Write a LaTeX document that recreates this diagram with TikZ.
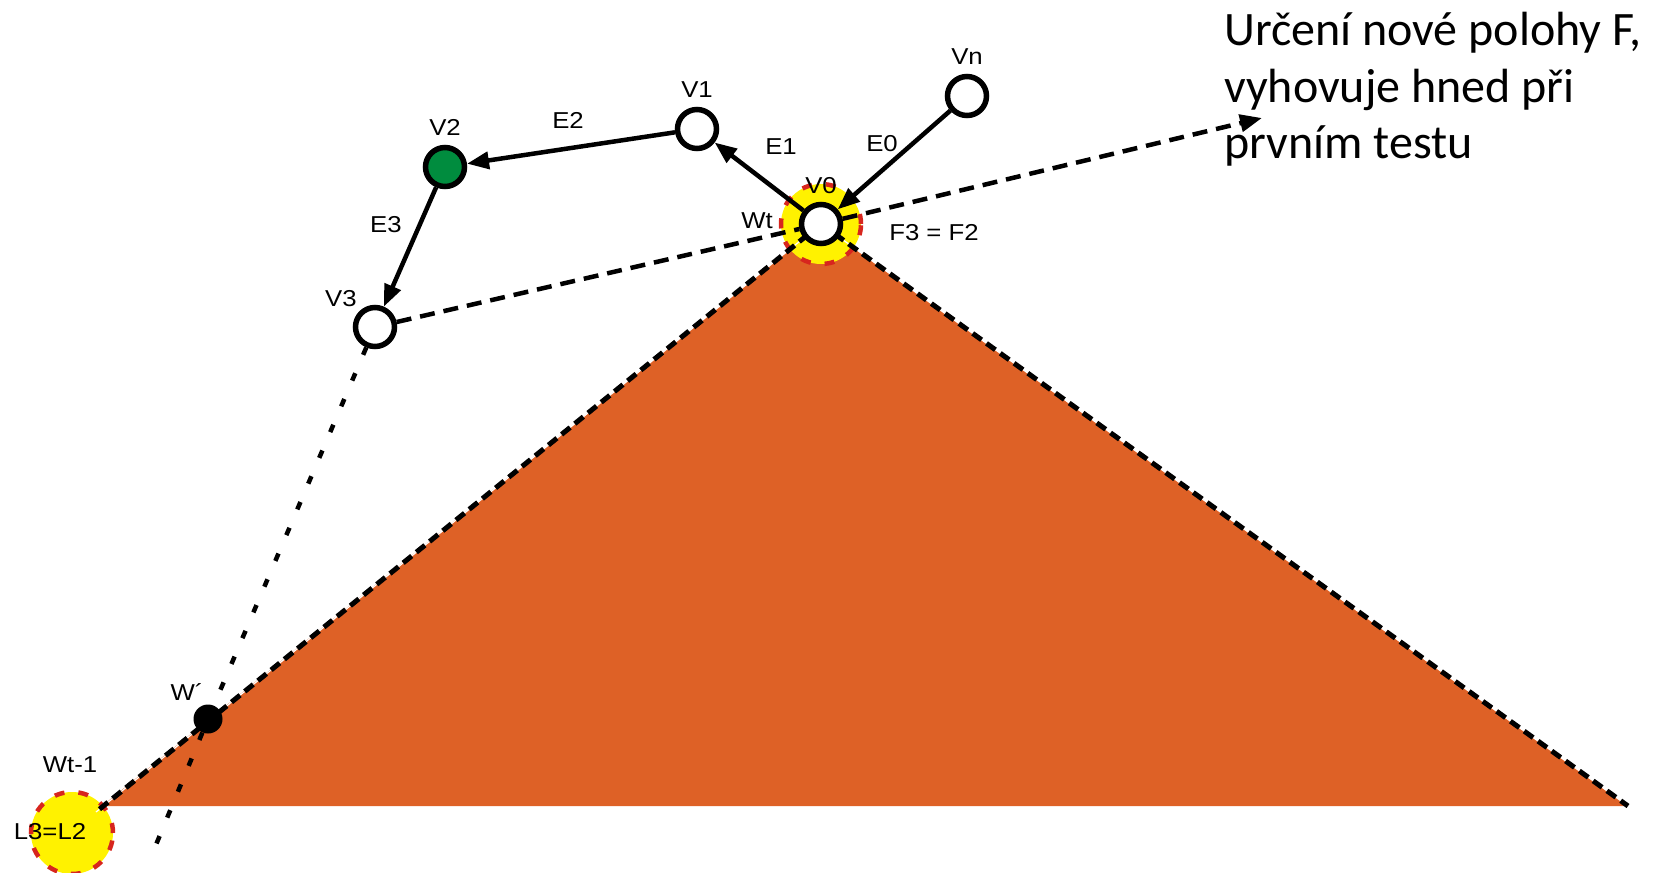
\documentclass[tikz,border=0pt]{standalone}
\usepackage{fontspec}
\setmainfont{Liberation Sans}
\newfontfamily\tagfont[FakeStretch=1.12]{Liberation Sans}
\newfontfamily\notefont{Carlito}
\usetikzlibrary{arrows.meta,positioning}
\definecolor{heap}{HTML}{DE6126}
\definecolor{glow}{HTML}{FFF200}
\definecolor{rim}{HTML}{D7261E}
\definecolor{leaf}{HTML}{008C3E}

\begin{document}
\begin{tikzpicture}[x=1pt,y=-1pt,>={Triangle[length=22pt,width=17pt]},
 node distance=9pt,
 every node/.style={font=\tagfont\fontsize{23}{27}\selectfont,inner sep=0pt},
 vtx/.style={circle,draw,line width=5.5pt,fill=white,minimum size=39pt},
 spot/.style={circle,fill=glow,draw=rim,line width=4.5pt,dash pattern=on 10pt off 14pt,minimum size=#1},
 edge/.style={->,line width=4.5pt},
 ridge/.style={line width=5pt,dash pattern=on 11pt off 6pt},
 trace/.style={line width=4.5pt,dash pattern=on 15pt off 9pt},
 probe/.style={line width=4.5pt,dash pattern=on 8pt off 20pt}]
\useasboundingbox (0,0) rectangle (1655,873);
\coordinate (top) at (821,224);
\coordinate (cornerL) at (102,806);
\coordinate (cornerR) at (1628,806);
\coordinate (tail) at (96,812);
\fill[heap] (top) -- (cornerL) -- (cornerR) -- cycle;
\node[spot=80pt] (hot0) at (top) {};
\node[spot=82pt] (hot1) at (72,833) {};
% sides of the heap
\draw[white,line width=1.2pt] (top) -- (tail) (top) -- (cornerR);
\draw[ridge] (top) -- (tail);
\draw[ridge] (top) -- (cornerR);
% vertices
\node[vtx] (v0) at (top) {};
\node[vtx] (vn) at (967,96) {};
\node[vtx] (v1) at (697,129) {};
\node[vtx,fill=leaf] (v2) at (445,167) {};
\node[vtx] (v3) at (375,327) {};
\node[circle,fill=black,minimum size=29pt] (wd) at (208,719) {};
\coordinate (aim) at (1262,118);
\coordinate (miss) at (153,852);
% test lines
\draw[trace] (v3) -- (v0);
\draw[trace,->] (v0) -- (aim);
\draw[probe] (v3) -- (wd);
\draw[probe] (wd) -- (miss);
% edges
\draw[edge] (vn) -- (v0);
\draw[edge] (v0) -- (v1);
\draw[edge] (v1) -- (v2);
\draw[edge] (v2) -- (v3);
% labels
\node[above=of vn] (vnl) {Vn};
\node[above=of v1] (v1l) {V1};
\node[above=of v2] (v2l) {V2};
\node[above=8pt of v0] (v0l) {V0};
\node (v3l) at (341,299) {V3};
\node (wtl) at (757,221) {Wt};
\node (fl) at (934,233) {F3 = F2};
\node (e0) at (882,144) {E0};
\node (e1) at (781,147) {E1};
\node (e2) at (568,120) {E2};
\node (e3) at (386,225) {E3};
\node (wl) at (187,692) {W´};
\node (wtl1) at (70,765) {Wt-1};
\node (ll) at (50,832) {L3=L2};
\node[font=\notefont\fontsize{48}{56.5}\selectfont,align=left,anchor=north west] (note) at (1224,12)
 {Určení nové polohy F,\\vyhovuje hned při\\prvním testu};
\end{tikzpicture}
\end{document}
